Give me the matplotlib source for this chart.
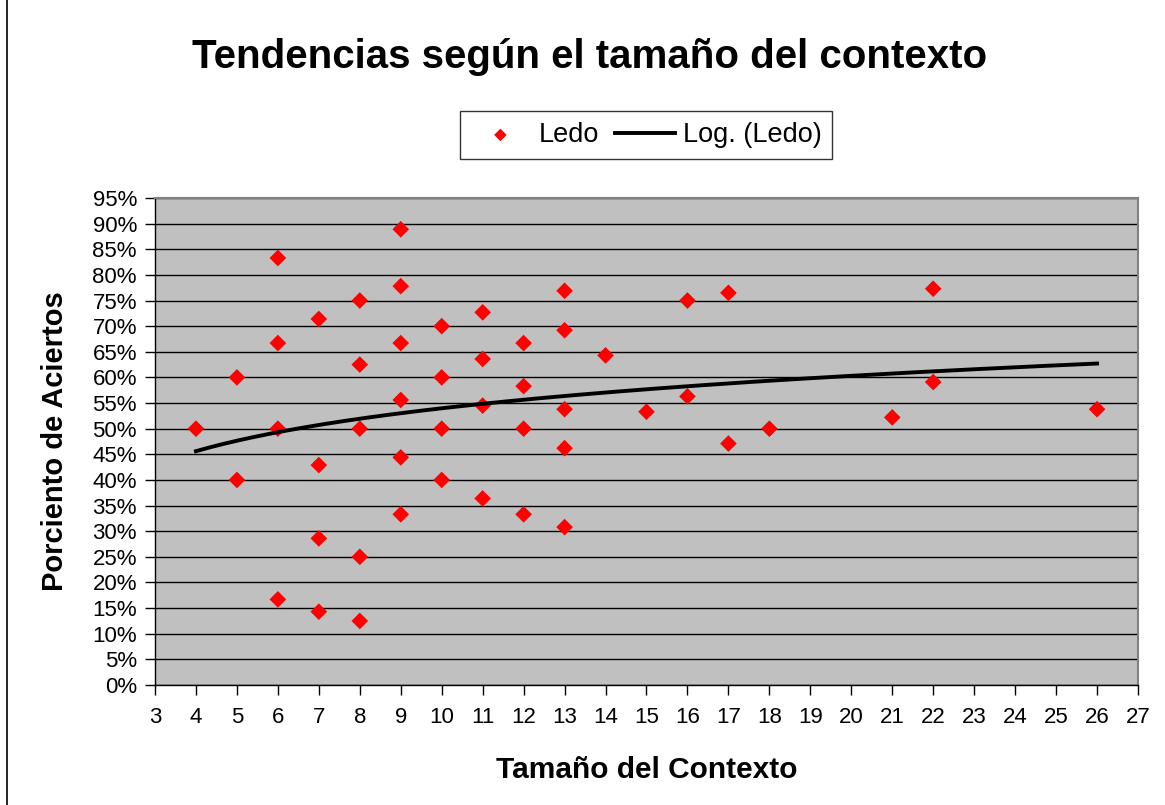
import numpy as np
import matplotlib
matplotlib.use("Agg")
import matplotlib.pyplot as plt
from matplotlib.ticker import PercentFormatter, MultipleLocator
from matplotlib.patches import Rectangle

plt.rcParams['font.family'] = ['Liberation Sans', 'DejaVu Sans']

# Data (context size, hit percentage)
ctx_size = [4,
            5, 5,
            6, 6, 6, 6,
            7, 7, 7, 7,
            8, 8, 8, 8, 8,
            9, 9, 9, 9, 9, 9,
            10, 10, 10, 10,
            11, 11, 11, 11,
            12, 12, 12, 12,
            13, 13, 13, 13, 13,
            14, 15,
            16, 16,
            17, 17,
            18, 21,
            22, 22,
            26]
hit_pct = [50.0,
           60.0, 40.0,
           83.3, 66.7, 50.0, 16.7,
           71.4, 42.9, 28.6, 14.3,
           75.0, 62.5, 50.0, 25.0, 12.5,
           88.9, 77.8, 66.7, 55.6, 44.4, 33.3,
           70.0, 60.0, 50.0, 40.0,
           72.7, 63.6, 54.5, 36.4,
           66.7, 58.3, 50.0, 33.3,
           76.9, 69.2, 53.8, 46.2, 30.8,
           64.3, 53.3,
           75.0, 56.3,
           76.5, 47.1,
           50.0, 52.2,
           77.3, 59.1,
           53.8]

x_ticks = list(range(3, 28))

W, H = 1165, 805
fig = plt.figure(figsize=(W/100, H/100), dpi=100)
fig.patch.set_facecolor('white')

# outer border
fig.add_artist(Rectangle((7/W, -0.01), 1.2, 1.02, transform=fig.transFigure,
                         fill=False, edgecolor='black', linewidth=1.2))

ax = fig.add_axes([155/W, 1-685/H, (1138-155)/W, (685-198)/H])
ax.set_facecolor('#c0c0c0')

xs = np.array(ctx_size, dtype=float)
ys = np.array(hit_pct, dtype=float)

# logarithmic trend fit
a, b = np.polyfit(np.log(xs), ys, 1)
xt = np.linspace(xs.min(), xs.max(), 200)
yt = a*np.log(xt) + b

ax.scatter(xs, ys, marker='D', s=72, color='#ff0000', edgecolors='none', zorder=3, label='Ledo')
ax.plot(xt, yt, color='black', lw=2.8, zorder=4, label='Log. (Ledo)')

ax.set_xlim(3, 27)
ax.set_ylim(0, 95)
ax.set_xticks(x_ticks)
ax.yaxis.set_major_locator(MultipleLocator(5))
ax.yaxis.set_major_formatter(PercentFormatter(decimals=0))
ax.grid(axis='y', color='black', lw=1.0, zorder=1)
ax.set_axisbelow(True)

for s in ['top', 'right']:
    ax.spines[s].set_color('#808080')
    ax.spines[s].set_linewidth(1.5)
for s in ['left', 'bottom']:
    ax.spines[s].set_color('black')
    ax.spines[s].set_linewidth(1.0)

ax.tick_params(axis='both', direction='out', length=7, width=1, labelsize=16, colors='black')
ax.tick_params(axis='y', pad=6)
ax.tick_params(axis='x', pad=9)

ax.set_xlabel('Tamaño del Contexto', fontsize=21.5, fontweight='bold', labelpad=20)
ax.set_ylabel('Porciento de Aciertos', fontsize=21, fontweight='bold', labelpad=17)

fig.text(590/W, 1-57/H, 'Tendencias según el tamaño del contexto', fontsize=29,
         fontweight='bold', ha='center', va='center')

leg = ax.legend(loc='center', bbox_to_anchor=(646/W, 1-135/H), bbox_transform=fig.transFigure,
                ncol=2, frameon=True, fancybox=False, edgecolor='black', fontsize=19.5,
                handlelength=2.2, columnspacing=0.6, handletextpad=0.3, borderpad=0.4,
                markerscale=0.75)
leg.get_frame().set_linewidth(1.0)

fig.savefig('out.png', dpi=100)
